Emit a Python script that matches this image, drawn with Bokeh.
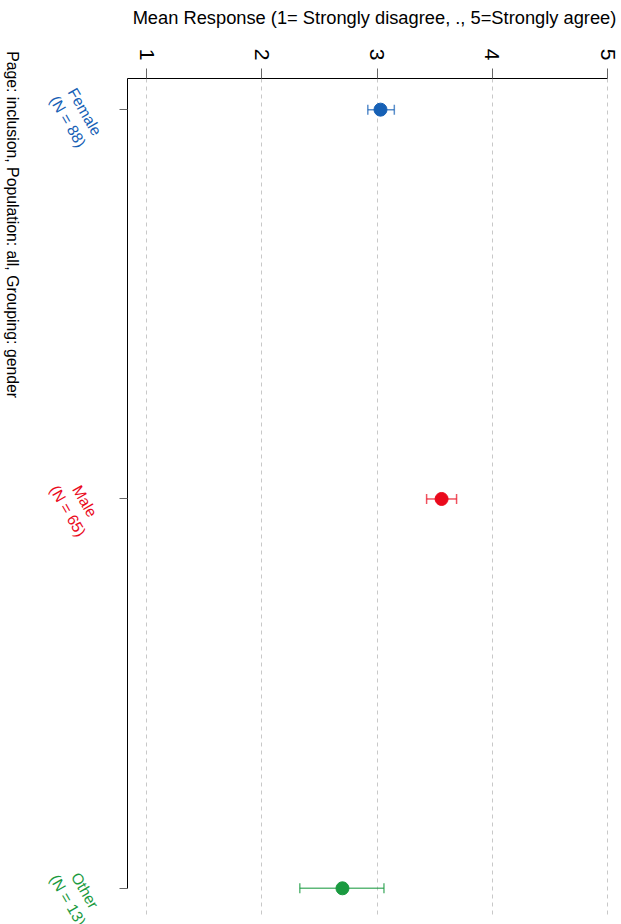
import math
from bokeh.plotting import figure
from bokeh.layouts import row, column
from bokeh.models import Range1d, FixedTicker, ColumnDataSource
from bokeh.core.properties import value
from bokeh.embed import file_html
from bokeh.resources import INLINE

# ---- data ----
groups = ["Female", "Male", "Other"]
counts = [88, 65, 13]
positions = [1, 2, 3]
means = [3.03, 3.56, 2.70]
lower = [2.92, 3.43, 2.33]
upper = [3.15, 3.69, 3.06]
colors = ["#1660B5", "#EA0A1C", "#1A9A40"]
x_ticks = [1, 2, 3, 4, 5]
title_text = "Mean Response (1= Strongly disagree, ., 5=Strongly agree)"
caption_text = "Page: inclusion, Population: all, Grouping: gender"

FONT = "Liberation Sans"

# ---- layout constants ----
W, H = 621, 924
TOP = 78          # frame top
BOTTOM_GAP = 7    # frame bottom gap
LEFT_W = 107      # width of label strip
Y_TOP, Y_BOT = 0.92, 3.075
X_LO, X_HI = 0.835, 5.121
ppu = (H - TOP - BOTTOM_GAP) / (Y_BOT - Y_TOP)

src = ColumnDataSource(dict(pos=positions, mean=means, lower=lower,
                            upper=upper, color=colors))

# ---- main plot ----
p = figure(width=W - LEFT_W, height=H, output_backend="svg",
           toolbar_location=None, title=None,
           x_range=Range1d(X_LO, X_HI), y_range=Range1d(Y_BOT, Y_TOP),
           x_axis_location="above", y_axis_location="left",
           min_border_left=20, min_border_top=TOP, min_border_right=0,
           min_border_bottom=BOTTOM_GAP)
p.outline_line_color = None

xa = p.xaxis[0]
xa.ticker = FixedTicker(ticks=x_ticks)
xa.bounds = (X_LO, 5)
xa.axis_line_color = "black"
xa.major_tick_out = 10
xa.major_tick_in = 0
xa.major_tick_line_color = "#666666"
xa.minor_tick_line_color = None
xa.major_label_orientation = -math.pi / 2
xa.major_label_text_font = FONT
xa.major_label_text_font_size = "21px"
xa.major_label_text_color = "black"
xa.major_label_standoff = 8
xa.axis_label = title_text
xa.axis_label_text_font = FONT
xa.axis_label_text_font_size = "18.3px"
xa.axis_label_text_font_style = "normal"
xa.axis_label_text_color = "black"
xa.axis_label_standoff = 18

ya = p.yaxis[0]
ya.ticker = FixedTicker(ticks=positions)
ya.bounds = (Y_TOP, 3)
ya.axis_line_color = "black"
ya.major_tick_out = 8
ya.major_tick_in = 0
ya.major_tick_line_color = "#666666"
ya.minor_tick_line_color = None
ya.major_label_text_font_size = "0px"
ya.major_label_text_alpha = 0
ya.major_label_standoff = 0

p.xgrid.ticker = FixedTicker(ticks=x_ticks)
p.xgrid.grid_line_color = "#c8c8c8"
p.xgrid.grid_line_dash = "4 4"
p.ygrid.grid_line_color = None

p.segment(x0="lower", y0="pos", x1="upper", y1="pos", line_color="color",
          line_alpha=0.7, line_width=1.5, source=src)
p.scatter(x="lower", y="pos", marker="dash", angle=math.pi / 2, size=10,
          line_color="color", line_alpha=0.7, line_width=1.5, source=src)
p.scatter(x="upper", y="pos", marker="dash", angle=math.pi / 2, size=10,
          line_color="color", line_alpha=0.7, line_width=1.5, source=src)
p.scatter(x="mean", y="pos", marker="circle", size=13, fill_color="color",
          line_color="color", source=src)

# ---- label strip (same vertical scale, full height) ----
left = figure(width=LEFT_W, height=H, output_backend="svg",
              toolbar_location=None, title=None,
              x_axis_location=None, y_axis_location=None,
              x_range=Range1d(0, LEFT_W),
              y_range=Range1d(Y_BOT + BOTTOM_GAP / ppu, Y_TOP - TOP / ppu),
              min_border=0)
left.grid.visible = False
left.outline_line_color = None

lab_src = ColumnDataSource(dict(
    x=[76] * len(groups),
    y=[v + 7 / ppu for v in positions],
    text=[f"{g}\n(N = {n})" for g, n in zip(groups, counts)],
    color=colors))
left.text(x="x", y="y", text="text", source=lab_src, angle=-60,
          angle_units="deg", text_align="center", text_baseline="middle",
          text_color="color", text_font=value(FONT), text_font_size="15.5px",
          text_line_height=1.15)

left.text(x=[12], y=[1 + (225 - 110) / ppu], text=[caption_text], angle=-90,
          angle_units="deg", text_align="center", text_baseline="middle",
          text_color="black", text_font=value(FONT),
          text_font_size="15.8px")

layout = row(column(left), column(p))
open("out.html", "w").write(file_html(layout, INLINE))
